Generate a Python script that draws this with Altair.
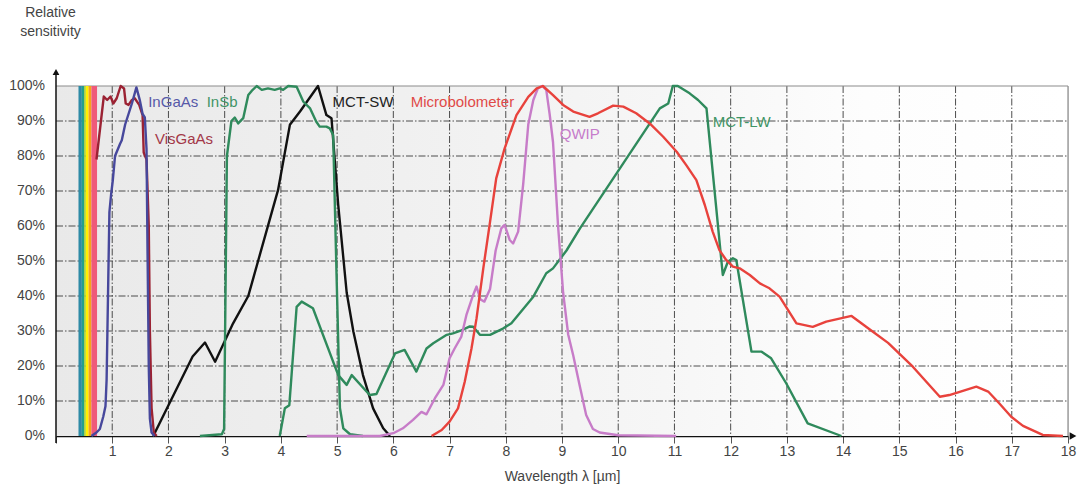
import altair as alt
import pandas as pd

W, H = 1012, 350
FONT = "Liberation Sans, Arial, sans-serif"

# ---- data -------------------------------------------------------------
ingaas_x = [0.63, 0.72, 0.78, 0.84, 0.88, 0.90, 0.93, 0.95, 0.98, 1.01, 1.05, 1.14, 1.17, 1.23,
            1.35, 1.43, 1.49, 1.54, 1.58, 1.61, 1.63, 1.65, 1.67, 1.70, 1.75]
ingaas_y = [0, 1, 2, 5.5, 8.5, 16, 45, 64, 69, 73, 80, 83.5, 84.5, 89,
            95, 99.6, 96, 92, 91, 82, 50, 20, 5, 1, 0]

visgaas_x = [0.72, 0.85, 0.91, 0.97, 1.02, 1.08, 1.15, 1.21, 1.24, 1.29, 1.35, 1.40, 1.48, 1.54,
             1.56, 1.61, 1.65, 1.67, 1.70, 1.74, 1.79]
visgaas_y = [79, 97, 96, 97, 95, 96.5, 100, 99.3, 95, 94.6, 96, 96.5, 94.6, 91.7,
             81, 79, 60, 30, 8, 1, 0]

insb_x = [2.56, 2.95, 2.99, 3.04, 3.12, 3.18, 3.24, 3.33, 3.42, 3.48, 3.57, 3.66, 3.77, 3.89, 3.98,
          4.04, 4.13, 4.28, 4.40, 4.52, 4.63, 4.69, 4.81, 4.87, 4.93, 4.99, 5.05, 5.11, 5.23, 5.46]
insb_y = [0, 0.5, 2, 80, 90, 91, 89.3, 90.8, 97.4, 98.6, 100, 98.9, 99.3, 98.9, 99.3,
          98.9, 100, 99.8, 95.5, 93.6, 89.8, 88.4, 88.4, 87.9, 86, 46, 8, 2.2, 0.5, 0]

mctsw_x = [1.73, 2.43, 2.65, 2.83, 3.15, 3.42, 3.75, 3.95, 4.16, 4.34, 4.66, 4.81, 4.90, 5.02,
           5.17, 5.29, 5.46, 5.64, 5.82, 5.94]
mctsw_y = [0, 22.7, 26.7, 21.2, 32.2, 40, 58.9, 70.3, 88.9, 92.7, 100, 91.7, 90.8, 66,
           41, 29.8, 17.4, 7.9, 2.2, 0]

mctlw_x = [3.98, 4.07, 4.15, 4.28, 4.37, 4.57, 5.02, 5.17, 5.26, 5.58, 5.70, 6.03, 6.20, 6.41,
           6.59, 6.71, 6.95, 7.06, 7.21, 7.36, 7.42, 7.54, 7.72, 7.95, 8.10, 8.49, 8.72, 8.84,
           9.08, 9.32, 10.74, 10.89, 10.97, 11.06, 11.27, 11.42, 11.57, 11.86, 11.95, 12.04,
           12.10, 12.37, 12.55, 12.72, 12.99, 13.37, 13.97]
mctlw_y = [0, 7.9, 8.8, 36.9, 38.4, 36.5, 17.4, 14.6, 17.4, 11.7, 12, 23.6, 24.6, 18.4,
           25, 26.5, 28.9, 29.3, 30.2, 31.3, 31.2, 28.9, 28.9, 30.7, 32.2, 39.8, 46.5, 47.9,
           53, 59.3, 93.6, 95, 100, 100, 97.9, 96, 93.6, 46, 49.8, 50.8,
           50.3, 24.1, 24.1, 22.2, 15, 3.6, 0]

qwip_x = [4.46, 5.76, 6.00, 6.17, 6.35, 6.50, 6.59, 6.74, 6.89, 7.00, 7.09, 7.21, 7.30, 7.42,
          7.48, 7.55, 7.62, 7.72, 7.82, 7.92, 7.98, 8.07, 8.13, 8.22, 8.31, 8.40, 8.49, 8.57,
          8.65, 8.72, 8.78, 8.84, 8.93, 9.02, 9.11, 9.20, 9.32, 9.43, 9.55, 9.67, 10.0, 11.03]
qwip_y = [0, 0, 0.8, 2.2, 4.6, 6.9, 6.2, 10.8, 14.6, 22.2, 25, 28.4, 34.6, 40.3,
          42.7, 39, 38.4, 42, 53, 59.3, 60.3, 56, 55, 58.4, 72, 89, 96, 99.3,
          100, 98.9, 92, 84, 60, 41, 29, 23, 14, 6, 2, 1, 0.2, 0]

mb_x = [6.68, 6.86, 7.00, 7.15, 7.27, 7.39, 7.48, 7.60, 7.72, 7.83, 7.98, 8.19, 8.40, 8.55, 8.66,
        8.84, 9.02, 9.20, 9.49, 9.64, 9.91, 10.09, 10.32, 10.56, 10.80, 11.04, 11.21, 11.39,
        11.54, 11.68, 11.80, 11.92, 12.04, 12.16, 12.34, 12.52, 12.69, 12.87, 13.17, 13.46,
        13.70, 14.15, 14.53, 14.80, 15.24, 15.72, 15.89, 16.37, 16.58, 16.78, 16.99, 17.20,
        17.55, 17.91]
mb_y = [0, 1.7, 4.1, 7.9, 15.5, 25, 33.6, 47.9, 61.2, 73.6, 82.2, 91.7, 96.9, 99.3, 100,
        97.4, 94.6, 92.7, 91.2, 92.2, 94.4, 94.1, 92.2, 89.3, 85.5, 81.2, 77.4, 73.1,
        66, 58.4, 53.1, 50.3, 48.4, 47.9, 46, 43.6, 42.2, 39.8, 32.2, 31.2,
        32.7, 34.3, 29.8, 26.6, 19.8, 11.2, 11.7, 14.1, 12.7, 9.3, 5.5, 2.9,
        0.3, 0]

series_names = ["MCT-SW", "InSb", "MCT-LW", "QWIP", "Microbolometer", "VisGaAs", "InGaAs"]
series_colors = ["#111111", "#2f8a5c", "#2f8a5c", "#c77cc8", "#e8423c", "#9b2233", "#47489c"]
series_data = [(mctsw_x, mctsw_y), (insb_x, insb_y), (mctlw_x, mctlw_y), (qwip_x, qwip_y),
               (mb_x, mb_y), (visgaas_x, visgaas_y), (ingaas_x, ingaas_y)]

label_text = ["InGaAs", "VisGaAs", "InSb", "MCT-SW", "Microbolometer", "QWIP", "MCT-LW"]
label_x = [1.64, 1.76, 2.68, 4.92, 6.31, 8.96, 11.68]
label_y = [95.5, 84.9, 95.4, 95.4, 95.4, 86.3, 89.7]
label_color = ["#5759a8", "#a33848", "#3f9466", "#222222", "#e04a48", "#c67ccb", "#3f9466"]

spec_start = [0.40, 0.46, 0.50, 0.53, 0.58, 0.63]
spec_end = [0.46, 0.50, 0.53, 0.58, 0.63, 0.73]
spec_color = ["#2e8aa6", "#23a08c", "#a6ce39", "#fff200", "#f7a21b", "#ef5a7a"]

x_grid = list(range(1, 18))
y_grid = list(range(10, 100, 10))
x_ticks = list(range(0, 19))
y_ticks = list(range(0, 101, 10))
y_tick_labels = [f"{v}%" for v in y_ticks]

# ---- tables -------------------------------------------------------------
rows = []
for name, (xs, ys) in zip(series_names, series_data):
    for i, (xv, yv) in enumerate(zip(xs, ys)):
        rows.append({"s": name, "x": xv, "y": yv, "i": i})
df = pd.DataFrame(rows)
lab_df = pd.DataFrame({"t": label_text, "x": label_x, "y": label_y, "c": label_color})
spec_df = pd.DataFrame({"x": spec_start, "x2": spec_end, "c": spec_color})
ytl_df = pd.DataFrame({"y": y_ticks, "t": y_tick_labels})
one = pd.DataFrame({"k": [0]})

xscale = alt.Scale(domain=[0, 18], nice=False, zero=False)
yscale = alt.Scale(domain=[0, 100], nice=False, zero=False)
DASH = [7, 2, 1.5, 2]

bg = alt.Chart(one).mark_rect(
    fill=alt.LinearGradient(
        gradient="linear", x1=0, x2=1, y1=0, y2=0,
        stops=[alt.GradientStop(color="#e9e9e9", offset=0),
               alt.GradientStop(color="#efefef", offset=0.3),
               alt.GradientStop(color="#f6f6f6", offset=0.6),
               alt.GradientStop(color="#fdfdfd", offset=0.8),
               alt.GradientStop(color="#ffffff", offset=1)])
).encode(x=alt.value(0), x2=alt.value(W), y=alt.value(0), y2=alt.value(H))

vgrid = alt.Chart(pd.DataFrame({"x": x_grid})).mark_rule(
    color="#3a3a3a", strokeWidth=0.9, strokeDash=DASH
).encode(x=alt.X("x:Q", scale=xscale), y=alt.value(0), y2=alt.value(H))

hgrid = alt.Chart(pd.DataFrame({"y": y_grid})).mark_rule(
    color="#3a3a3a", strokeWidth=0.9, strokeDash=DASH
).encode(y=alt.Y("y:Q", scale=yscale), x=alt.value(0), x2=alt.value(W))

top_border = alt.Chart(one).mark_rule(color="#8c8c8c", strokeWidth=1.2).encode(
    x=alt.value(0), x2=alt.value(W), y=alt.value(0))
right_border = alt.Chart(one).mark_rule(color="#8c8c8c", strokeWidth=1.2).encode(
    x=alt.value(W), y=alt.value(0), y2=alt.value(H))

spec = alt.Chart(spec_df).mark_rect().encode(
    x=alt.X("x:Q", scale=xscale), x2="x2:Q",
    y=alt.datum(0, scale=yscale), y2=alt.datum(100),
    color=alt.Color("c:N", scale=None))

lines = alt.Chart(df).mark_line(strokeWidth=2.4, strokeJoin="round").encode(
    x=alt.X("x:Q", scale=xscale, axis=alt.Axis(
        values=x_ticks, format="d", title="Wavelength λ [µm]")),
    y=alt.Y("y:Q", scale=yscale, axis=alt.Axis(
        values=y_ticks, title=["Relative", "sensitivity"])),
    color=alt.Color("s:N", scale=alt.Scale(domain=series_names, range=series_colors), legend=None),
    detail="s:N",
    order="i:Q")

labels = alt.Chart(lab_df).mark_text(align="left", baseline="middle", font=FONT, fontSize=15).encode(
    x=alt.X("x:Q", scale=xscale), y=alt.Y("y:Q", scale=yscale), text="t:N",
    color=alt.Color("c:N", scale=None))

ytick_labels = alt.Chart(ytl_df).mark_text(
    align="right", baseline="middle", font=FONT, fontSize=14, color="#444444"
).encode(x=alt.value(-11), y=alt.Y("y:Q", scale=yscale), text="t:N")

yaxis_line = alt.Chart(one).mark_rule(color="#111111", strokeWidth=1.5).encode(
    x=alt.value(0), y=alt.value(-12), y2=alt.value(H + 7))
arrow_up = alt.Chart(one).mark_point(shape="triangle-up", filled=True, size=45, color="#111111", opacity=1).encode(
    x=alt.value(0), y=alt.value(-14))
arrow_right = alt.Chart(one).mark_point(shape="triangle-right", filled=True, size=60, color="#111111", opacity=1).encode(
    x=alt.value(W + 5), y=alt.value(H))

chart = alt.layer(
    bg, vgrid, hgrid, top_border, right_border, spec, lines, labels, ytick_labels,
    yaxis_line, arrow_up, arrow_right
).properties(
    width=W, height=H,
    padding={"left": 56, "top": 86, "right": 12, "bottom": 54},
    autosize=alt.AutoSizeParams(type="none")
).configure_view(stroke=None).configure(background="white").configure_axisX(
    grid=False, domainColor="#111111", domainWidth=1.5, tickColor="#555555", tickSize=7,
    labelFont=FONT, labelFontSize=14, labelColor="#444444", labelPadding=1,
    labelOverlap=False, labelFlush=False,
    labelExpr="datum.value == 0 ? '' : datum.label",
    titleFont=FONT, titleFontSize=14, titleFontWeight="normal", titleColor="#444444",
    titlePadding=11
).configure_axisY(
    grid=False, domain=False, ticks=False, labels=False,
    titleAngle=0, titleAlign="center", titleBaseline="top", titleX=-6, titleY=-81,
    titleFont=FONT, titleFontSize=14, titleFontWeight="normal", titleColor="#444444",
    titleLineHeight=19
)

chart.save("out.html", embed_options={"renderer": "svg", "actions": False})
